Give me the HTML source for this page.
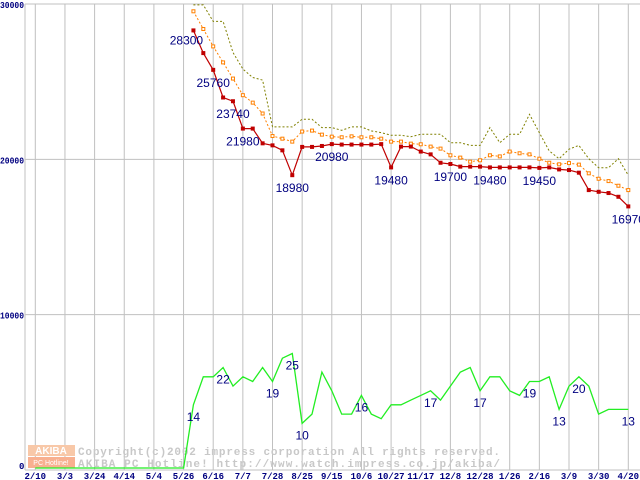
<!DOCTYPE html>
<html><head><meta charset="utf-8"><style>
html,body{margin:0;padding:0;background:#fff;}
svg{display:block;}
</style></head><body>
<svg id="chart" width="640" height="480" viewBox="0 0 640 480" xmlns="http://www.w3.org/2000/svg" font-family="Liberation Sans, sans-serif">
<g id="grid"></g>
<g id="watermark">
  <rect x="28" y="445" width="47" height="11" fill="#f8c8a8"/>
  <text x="51" y="454" font-size="10" font-weight="bold" fill="#fff" text-anchor="middle">AKIBA</text>
  <rect x="28" y="457" width="47" height="11" fill="#f8b090"/>
  <text x="51" y="465" font-size="7" fill="#fff" text-anchor="middle">PC Hotline!</text>
  <text x="78" y="455" style="font-family:'Liberation Mono',monospace;font-size:11px;font-weight:bold" textLength="422" lengthAdjust="spacing" fill="#c8c8c8">Copyright(c)2002 impress corporation All rights reserved.</text>
  <text x="78" y="467" style="font-family:'Liberation Mono',monospace;font-size:11px;font-weight:bold" textLength="422" lengthAdjust="spacing" fill="#c8c8c8">AKIBA PC Hotline!  http://www.watch.impress.co.jp/akiba/</text>
</g>
<g id="series"></g>
<g id="labels"></g>
</svg>
<script>
const xTickLabels = ["2/10","3/3","3/24","4/14","5/4","5/26","6/16","7/7","7/28","8/25","9/15","10/6","10/27","11/17","12/8","12/28","1/26","2/16","3/9","3/30","4/20"];
const yTicks = [0,10000,20000,30000];
const minPrice = [28300,26840,25760,23980,23740,21980,21980,21030,20900,20580,18980,20800,20800,20860,20980,20950,20950,20950,20950,20980,19480,20820,20820,20500,20320,19780,19700,19530,19530,19530,19480,19480,19480,19480,19480,19450,19480,19350,19310,19140,18020,17910,17830,17590,16970];
const avgPrice = [29530,28390,27270,26240,25200,24130,23650,22950,21500,21330,21140,21790,21850,21590,21460,21420,21480,21420,21420,21330,21140,21140,21010,20970,20820,20690,20260,20110,19850,19940,20260,20190,20500,20390,20320,20040,19780,19680,19760,19660,19100,18750,18600,18300,18020];
const maxPrice = [29940,29940,28880,28880,26880,25810,25270,25100,22090,22090,22090,22580,22580,22040,22040,21870,22090,22090,21830,21720,21550,21550,21460,21610,21610,21610,21070,21070,20900,20900,22040,21070,21610,21610,22900,21720,20540,20040,20650,20900,20040,19460,19460,20040,18970];
const shopCount = [14,20,20,22,18,20,19,22,19,24,25,10,12,21,17,12,12,16,12,11,14,14,15,16,17,15,18,21,22,17,20,20,17,16,19,19,20,13,18,20,18,12,13,13,13];
const priceLabelIdx = [0,2,4,5,10,14,20,26,30,35,44];
const countLabelIdx = [0,3,8,10,11,17,24,29,34,37,39,44];

const NS="http://www.w3.org/2000/svg";
const X0=35.3, GRID=29.65, WEEK=GRID/3, PLOT_L=25, PLOT_T=4, PLOT_B=470;
const xTick=i=>X0+i*GRID;
const xWeek=k=>X0+5*GRID+(k+1)*WEEK;
const yP=v=>PLOT_B-(v/30000)*(PLOT_B-PLOT_T);
const yC=c=>PLOT_B-c*300*(PLOT_B-PLOT_T)/30000;
function mk(tag,attrs,parent){const e=document.createElementNS(NS,tag);for(const k in attrs)e.setAttribute(k,attrs[k]);parent.appendChild(e);return e;}
const grid=document.getElementById('grid'), series=document.getElementById('series'), labels=document.getElementById('labels');
const monoStyle="font-family:'Liberation Mono',monospace;font-size:9px;font-weight:bold";

xTickLabels.forEach((t,i)=>{
  const l=mk('line',{x1:xTick(i),x2:xTick(i),y1:PLOT_T,y2:PLOT_B,stroke:'#c0c0c0','stroke-width':1},grid);
  
  
  const tx=mk('text',{x:xTick(i),y:479,style:monoStyle,fill:'#000080','text-anchor':'middle'},grid);
  tx.textContent=t;
  
  
});
yTicks.forEach(v=>{
  const l=mk('line',{x1:PLOT_L,x2:640,y1:yP(v),y2:yP(v),stroke:'#c0c0c0','stroke-width':1},grid);
  
  
  const s=String(v);
  const attrs={x:s.length>1?0:19,y:yP(v)+(v===0?-1:4),style:monoStyle,fill:'#000080'};
  if(s.length>1){attrs.textLength=24;attrs.lengthAdjust='spacingAndGlyphs';}
  const tx=mk('text',attrs,grid);
  tx.textContent=s;
  
  
});
const ax=mk('line',{x1:PLOT_L,x2:PLOT_L,y1:PLOT_T,y2:PLOT_B,stroke:'#c0c0c0'},grid);



function pts(arr,yf){return arr.map((v,k)=>xWeek(k).toFixed(1)+','+yf(v).toFixed(1)).join(' ');}
const cz='35.3,'+(PLOT_B-2)+' '+(X0+5*GRID).toFixed(1)+','+(PLOT_B-2)+' '+pts(shopCount,yC);
const gl=mk('polyline',{points:cz,fill:'none',stroke:'#22ee22','stroke-width':1.3},series);



const ml=mk('polyline',{points:pts(maxPrice,yP),fill:'none',stroke:'#808000','stroke-width':1,'stroke-dasharray':'2,2'},series);



const al=mk('polyline',{points:pts(avgPrice,yP),fill:'none',stroke:'#ff8000','stroke-width':1,'stroke-dasharray':'2,2'},series);


avgPrice.forEach((v,k)=>{
  const r=mk('rect',{x:xWeek(k)-1.5,y:yP(v)-1.5,width:3,height:3,fill:'#fff',stroke:'#ff8000','stroke-width':1},series);
  
  
});

const rl=mk('polyline',{points:pts(minPrice,yP),fill:'none',stroke:'#c00000','stroke-width':1.2},series);


minPrice.forEach((v,k)=>{
  const r=mk('rect',{x:xWeek(k)-2,y:yP(v)-2,width:4,height:4,fill:'#c00000'},series);
  
  
});

priceLabelIdx.forEach(k=>{
  let x=xWeek(k), y=yP(minPrice[k])+17;
  if(k===0){x-=7;y=yP(minPrice[k])+14;}
  const t=mk('text',{x:x,y:y,'font-size':12,fill:'#000080','text-anchor':'middle'},labels);
  t.textContent=String(minPrice[k]);
  
  
});
countLabelIdx.forEach(k=>{
  const t=mk('text',{x:xWeek(k),y:yC(shopCount[k])+16,'font-size':12,fill:'#000080','text-anchor':'middle'},labels);
  t.textContent=String(shopCount[k]);
  
  
});
</script>
</body></html>
